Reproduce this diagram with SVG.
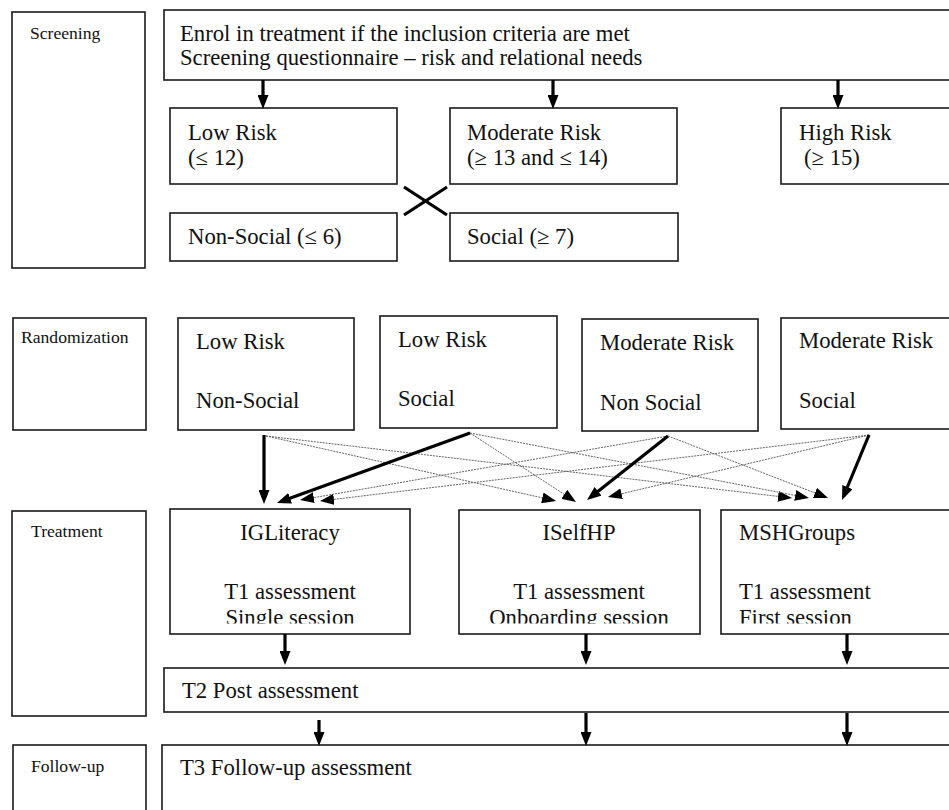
<svg xmlns="http://www.w3.org/2000/svg" width="949" height="810" viewBox="0 0 949 810">
<style>
.box{fill:#fff;stroke:#1a1a1a;stroke-width:1.6}
.t{font-family:"Liberation Serif","Times New Roman",serif;font-size:22.7px;fill:#111}
.lbl{font-family:"Liberation Serif","Times New Roman",serif;font-size:17.6px;fill:#111}
.bold{stroke:#000;stroke-width:3.2;fill:none}
.dot{stroke:#666;stroke-width:1;stroke-dasharray:2 1;fill:none}
</style>
<defs>
<marker id="ah" markerUnits="userSpaceOnUse" markerWidth="14" markerHeight="11" refX="1" refY="5.5" orient="auto">
<path d="M0,0 L14,5.5 L0,11 z" fill="#000"/>
</marker>
<clipPath id="clipIG"><rect x="160" y="500" width="800" height="123.5"/></clipPath>
</defs>
<rect x="0" y="0" width="949" height="810" fill="#fff"/>

<g id="lbl-screening"><rect class="box" x="12" y="12" width="133" height="256"/><text class="lbl" x="30" y="39">Screening</text></g>
<g id="lbl-randomization"><rect class="box" x="13" y="318" width="133" height="112"/><text class="lbl" x="21" y="343">Randomization</text></g>
<g id="lbl-treatment"><rect class="box" x="12" y="511" width="134" height="205"/><text class="lbl" x="31" y="537">Treatment</text></g>
<g id="lbl-followup"><rect class="box" x="13" y="745" width="133" height="80"/><text class="lbl" x="31" y="772">Follow-up</text></g>

<g id="enrol"><rect class="box" x="164" y="10" width="800" height="70"/>
<text class="t" x="180" y="41">Enrol in treatment if the inclusion criteria are met</text>
<text class="t" x="180" y="65">Screening questionnaire – risk and relational needs</text></g>

<g id="low-risk"><rect class="box" x="170" y="108" width="227" height="76"/><text class="t" x="188" y="140">Low Risk</text><text class="t" x="188" y="165">(≤ 12)</text></g>
<g id="moderate-risk"><rect class="box" x="450" y="108" width="227" height="76"/><text class="t" x="467" y="140">Moderate Risk</text><text class="t" x="467" y="165">(≥ 13 and ≤ 14)</text></g>
<g id="high-risk"><rect class="box" x="781" y="108" width="200" height="76"/><text class="t" x="799" y="140">High Risk</text><text class="t" x="804" y="165">(≥ 15)</text></g>
<g id="non-social"><rect class="box" x="170" y="213" width="227" height="48"/><text class="t" x="188" y="244">Non-Social (≤ 6)</text></g>
<g id="social"><rect class="box" x="450" y="213" width="228" height="48"/><text class="t" x="467" y="244">Social (≥ 7)</text></g>

<g id="r-low-nonsocial"><rect class="box" x="178" y="318" width="176" height="112"/><text class="t" x="196" y="349">Low Risk</text><text class="t" x="196" y="408">Non-Social</text></g>
<g id="r-low-social"><rect class="box" x="380" y="316" width="177" height="112"/><text class="t" x="398" y="347">Low Risk</text><text class="t" x="398" y="406">Social</text></g>
<g id="r-mod-nonsocial"><rect class="box" x="582" y="319" width="176" height="112"/><text class="t" x="600" y="350">Moderate Risk</text><text class="t" x="600" y="410">Non Social</text></g>
<g id="r-mod-social"><rect class="box" x="781" y="318" width="200" height="111"/><text class="t" x="799" y="348">Moderate Risk</text><text class="t" x="799" y="408">Social</text></g>

<g id="igliteracy"><rect class="box" x="170" y="509" width="240" height="125"/>
<g clip-path="url(#clipIG)"><text class="t" x="290" y="540" text-anchor="middle">IGLiteracy</text><text class="t" x="290" y="599" text-anchor="middle">T1 assessment</text><text class="t" x="290" y="625" text-anchor="middle">Single session</text></g></g>
<g id="iselfhp"><rect class="box" x="459" y="510" width="241" height="124"/>
<g clip-path="url(#clipIG)"><text class="t" x="579" y="540" text-anchor="middle">ISelfHP</text><text class="t" x="579" y="599" text-anchor="middle">T1 assessment</text><text class="t" x="579" y="625" text-anchor="middle">Onboarding session</text></g></g>
<g id="mshgroups"><rect class="box" x="721" y="510" width="260" height="124"/>
<g clip-path="url(#clipIG)"><text class="t" x="739" y="540">MSHGroups</text><text class="t" x="739" y="599">T1 assessment</text><text class="t" x="739" y="625">First session</text></g></g>

<g id="t2"><rect class="box" x="164" y="668" width="800" height="44"/><text class="t" x="182" y="698">T2 Post assessment</text></g>
<g id="t3"><rect class="box" x="162" y="745" width="800" height="80"/><text class="t" x="180" y="775">T3 Follow-up assessment</text></g>

<g id="connectors">
<line class="bold" x1="263" y1="80" x2="263" y2="96" marker-end="url(#ah)"/>
<line class="bold" x1="553" y1="80" x2="553" y2="96" marker-end="url(#ah)"/>
<line class="bold" x1="838" y1="80" x2="838" y2="96" marker-end="url(#ah)"/>
<line class="bold" x1="404" y1="187" x2="447" y2="215"/>
<line class="bold" x1="404" y1="215" x2="447" y2="187"/>

<line class="dot" x1="266" y1="436" x2="543.3" y2="498.1" marker-end="url(#ah)"/>
<line class="dot" x1="266" y1="436" x2="779.1" y2="496.5" marker-end="url(#ah)"/>
<line class="dot" x1="470" y1="433" x2="565.1" y2="494.9" marker-end="url(#ah)"/>
<line class="dot" x1="470" y1="433" x2="796.2" y2="495.6" marker-end="url(#ah)"/>
<line class="dot" x1="668" y1="436" x2="312.8" y2="497.8" marker-end="url(#ah)"/>
<line class="dot" x1="668" y1="436" x2="815.9" y2="493.3" marker-end="url(#ah)"/>
<line class="dot" x1="869" y1="435" x2="332.9" y2="499.5" marker-end="url(#ah)"/>
<line class="dot" x1="869" y1="435" x2="620.6" y2="494.0" marker-end="url(#ah)"/>

<line class="bold" x1="264" y1="435" x2="264" y2="491" marker-end="url(#ah)"/>
<line class="bold" x1="470" y1="433" x2="289.2" y2="498.6" marker-end="url(#ah)"/>
<line class="bold" x1="668" y1="436" x2="597.2" y2="491.9" marker-end="url(#ah)"/>
<line class="bold" x1="869" y1="435" x2="847" y2="488" marker-end="url(#ah)"/>

<line class="bold" x1="285" y1="634" x2="285" y2="652" marker-end="url(#ah)"/>
<line class="bold" x1="586" y1="634" x2="586" y2="652" marker-end="url(#ah)"/>
<line class="bold" x1="847" y1="634" x2="847" y2="652" marker-end="url(#ah)"/>

<line class="bold" x1="319" y1="720" x2="319" y2="733" marker-end="url(#ah)"/>
<line class="bold" x1="586" y1="713" x2="586" y2="733" marker-end="url(#ah)"/>
<line class="bold" x1="847" y1="713" x2="847" y2="733" marker-end="url(#ah)"/>
</g>
</svg>
